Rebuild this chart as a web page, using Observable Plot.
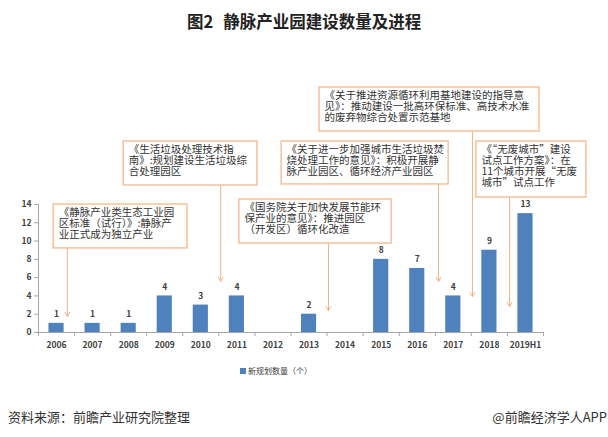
<!DOCTYPE html>
<html>
<head>
<meta charset="utf-8">
<script src="https://cdn.jsdelivr.net/npm/d3@7"></script>
<script src="https://cdn.jsdelivr.net/npm/@observablehq/plot@0.6"></script>
<style>
  body { margin: 0; background: #fff; }
  #wrap { position: relative; width: 608px; height: 437px; font-family: "Noto Sans CJK SC", "Noto Sans", sans-serif; color: #333; overflow: hidden; }
  #title { position: absolute; top: 12px; left: 0; width: 608px; text-align: center; font-size: 16.5px; line-height: 18px; font-weight: bold; color: #222; white-space: nowrap; }
  #title .gap { display: inline-block; width: 10px; }
  #chart { position: absolute; top: 38px; left: 0; }
  #legend { position: absolute; top: 366px; left: 240px; font-size: 8px; line-height: 10px; color: #404040; display: flex; align-items: center; white-space: nowrap; }
  #legend span.sw { display: inline-block; width: 6px; height: 6px; background: #4F81BD; margin-right: 2px; }
  #srcL { position: absolute; top: 408px; left: 8px; font-size: 13px; line-height: 18px; color: #333; white-space: nowrap; }
  #srcR { position: absolute; top: 408px; right: 1px; font-size: 13px; line-height: 18px; color: #333; white-space: nowrap; }
</style>
</head>
<body>
<div id="wrap">
  <div id="title">图2<span class="gap"></span>静脉产业园建设数量及进程</div>
  <div id="chart"></div>
  <div id="legend"><span class="sw"></span><span id="legendText"></span></div>
  <div id="srcL">资料来源：前瞻产业研究院整理</div>
  <div id="srcR">@前瞻经济学人APP</div>
</div>
<script>
// ---- data ----
const years = ["2006","2007","2008","2009","2010","2011","2012","2013","2014","2015","2016","2017","2018","2019H1"];
const counts = [1, 1, 1, 4, 3, 4, null, 2, null, 8, 7, 4, 9, 13];
const yTicks = [0, 2, 4, 6, 8, 10, 12, 14];
const seriesName = "新规划数量（个）";

// annotation texts (line breaks as in the picture)
const annoTexts = [
  "《静脉产业类生态工业园\n区标准（试行）》:静脉产\n业正式成为独立产业",
  "《生活垃圾处理技术指\n南》:规划建设生活垃圾综\n合处理园区",
  "《国务院关于加快发展节能环\n保产业的意见》：推进园区\n（开发区）循环化改造",
  "《关于进一步加强城市生活垃圾焚\n烧处理工作的意见》：积极开展静\n脉产业园区、循环经济产业园区",
  "《关于推进资源循环利用基地建设的指导意\n见》：推动建设一批高环保标准、高技术水准\n的废弃物综合处置示范基地",
  "《“无废城市”建设\n试点工作方案》：在\n11个城市开展“无废\n城市”试点工作"
];
// annotation placement in data units (x: category index, y: value)
const annoBoxX1 = [-0.08, 1.86, 5.07, 6.24, 7.29, 11.64];
const annoBoxX2 = [3.63, 5.57, 9.29, 10.87, 13.39, 14.69];
const annoBoxTop = [14.0, 20.89, 14.55, 20.89, 26.8, 20.89];
const annoBoxBottom = [9.19, 16.08, 9.73, 16.19, 21.98, 14.77];
const annoArrowX = [0.30, 4.55, 7.54, 10.59, 11.53, 12.56];
const annoArrowTip = [1.75, 5.6, 2.4, 5.58, 3.94, 2.84];

document.getElementById("legendText").textContent = seriesName;

// ---- tables ----
const bars = years.map((y, i) => ({i, year: y, value: counts[i]})).filter(d => d.value != null);
const annos = annoTexts.map((t, k) => ({
  text: t, x1: annoBoxX1[k], x2: annoBoxX2[k], top: annoBoxTop[k], bottom: annoBoxBottom[k],
  ax: annoArrowX[k], tip: annoArrowTip[k]
}));
const boundaries = d3.range(years.length + 1).map(i => i - 0.5);
const half = 0.21;
const orange = "#F4B183";
const axisGray = "#A6A6A6";

const chart = Plot.plot({
  width: 608,
  height: 352,
  marginLeft: 38,
  marginRight: 65,
  marginTop: 166,
  marginBottom: 58,
  style: {fontFamily: "'Noto Sans CJK SC', 'Liberation Sans', sans-serif", background: "transparent", overflow: "visible"},
  x: {type: "linear", domain: [-0.5, years.length - 0.5], axis: null},
  y: {domain: [0, 14], axis: null},
  marks: [
    // bars
    Plot.rectY(bars, {x1: d => d.i - half, x2: d => d.i + half, y1: 0, y2: "value", fill: "#4F81BD"}),
    Plot.text(bars, {x: "i", y: "value", text: d => String(d.value), dy: -9, fontSize: 8.5, fontWeight: "bold", fill: "#404040"}),
    // axes
    Plot.ruleY([0], {stroke: axisGray}),
    Plot.ruleX([-0.5], {y1: 0, y2: 14, stroke: axisGray}),
    Plot.axisY({ticks: yTicks, tickSize: 4, tickPadding: 3, stroke: axisGray, fill: "#404040", fontSize: 8.5, fontWeight: "bold", label: null}),
    Plot.axisX({ticks: boundaries, tickSize: 4, tickFormat: () => "", stroke: axisGray, label: null}),
    Plot.axisX({ticks: d3.range(years.length), tickSize: 0, tickPadding: 9, tickFormat: i => years[i], fill: "#404040", fontSize: 8.5, fontWeight: "bold", label: null}),
    // annotation arrows
    Plot.arrow(annos, {x: "ax", y1: "bottom", y2: "tip", stroke: orange, strokeWidth: 1, headLength: 7, headAngle: 60}),
    // annotation boxes
    Plot.rect(annos, {x1: "x1", x2: "x2", y1: "bottom", y2: "top", fill: "white", stroke: orange, strokeWidth: 1.2}),
    Plot.text(annos, {x: "x1", y: "top", text: "text", textAnchor: "start", lineAnchor: "top", dx: 5, dy: 4, fontSize: 10.5, lineHeight: 1.05, fill: "#333"})
  ]
});
document.getElementById("chart").appendChild(chart);
</script>
</body>
</html>
